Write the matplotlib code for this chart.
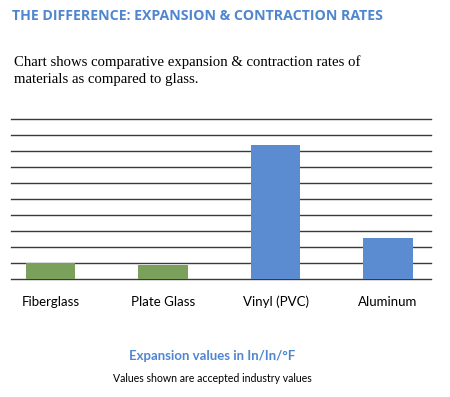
import matplotlib
matplotlib.use("Agg")
import matplotlib.pyplot as plt

# data (expansion values, x 1e-6 in/in/°F)
materials = ["Fiberglass", "Plate Glass", "Vinyl (PVC)", "Aluminum"]
expansion = [5.0, 4.2, 41.9, 12.7]
bar_colors = ["#7ba05b", "#7ba05b", "#5b8bd0", "#5b8bd0"]
grid_ticks = [0, 5, 10, 15, 20, 25, 30, 35, 40, 45, 50]

W, H = 450, 397
fig = plt.figure(figsize=(W / 100, H / 100), dpi=100)

ax = fig.add_axes([11.3 / W, 1 - 278.5 / H, 419.5 / W, 159.5 / H])
ax.bar(range(len(materials)), expansion, width=0.44, color=bar_colors, zorder=3)
ax.set_xlim(-0.35, 3.38)
ax.set_ylim(0, 50)
ax.set_yticks(grid_ticks)
ax.yaxis.grid(True, color="#3a3a3a", linewidth=1.0, zorder=0)
ax.set_axisbelow(True)
for gl in ax.get_ygridlines():
    gl.set_clip_on(False)
ax.tick_params(axis="y", left=False, labelleft=False)
ax.set_xticks(range(len(materials)))
ax.set_xticklabels(materials, fontsize=9.5, fontfamily="Lato")
ax.tick_params(axis="x", bottom=False, pad=9)
for s in ax.spines.values():
    s.set_visible(False)

fig.text(12 / W, 1 - 16 / H, "THE DIFFERENCE: EXPANSION & CONTRACTION RATES",
         color="#4f86cf", fontsize=10.2, fontweight="bold", fontfamily="Open Sans",
         va="center", ha="left")
fig.text(14 / W, 1 - 62 / H, "Chart shows comparative expansion & contraction rates of",
         fontsize=10.6, fontfamily="Liberation Serif", va="center", ha="left")
fig.text(14 / W, 1 - 79 / H, "materials as compared to glass.",
         fontsize=10.6, fontfamily="Liberation Serif", va="center", ha="left")
fig.text(212 / W, 1 - 356 / H, "Expansion values in In/In/°F",
         color="#4f86cf", fontsize=9.5, fontweight="bold", fontfamily="Lato",
         va="center", ha="center")
fig.text(212 / W, 1 - 379 / H, "Values shown are accepted industry values",
         fontsize=7.6, fontfamily="Lato", va="center", ha="center")

fig.savefig("out.png", dpi=100)
